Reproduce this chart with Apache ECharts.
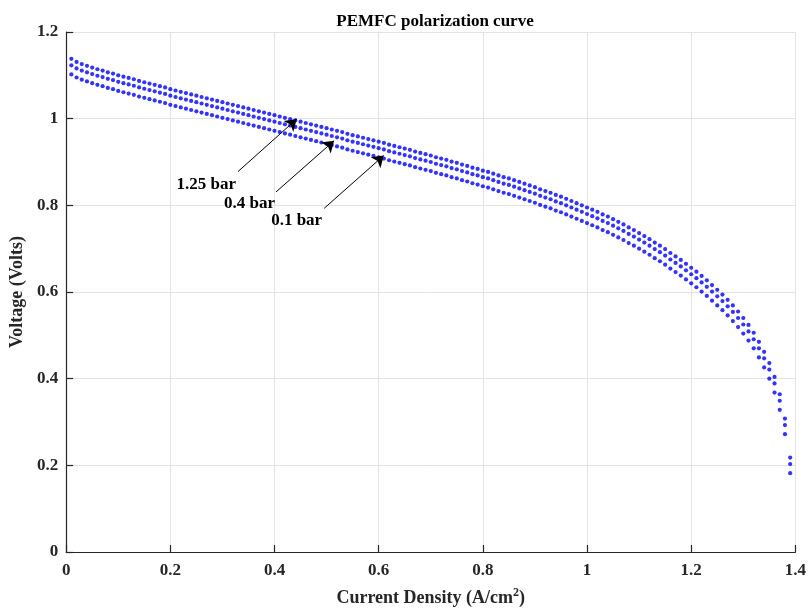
<!DOCTYPE html>
<html>
<head>
<meta charset="utf-8">
<script src="https://cdn.jsdelivr.net/npm/echarts@6/dist/echarts.min.js"></script>
<style>
html,body{margin:0;padding:0;background:#fff;}
#chart{width:809px;height:612px;}
</style>
</head>
<body>
<div id="chart"></div>
<script>
var currentDensity = [0.01,0.02,0.03,0.04,0.05,0.06,0.07,0.08,0.09,0.10,
0.11,0.12,0.13,0.14,0.15,0.16,0.17,0.18,0.19,0.20,
0.21,0.22,0.23,0.24,0.25,0.26,0.27,0.28,0.29,0.30,
0.31,0.32,0.33,0.34,0.35,0.36,0.37,0.38,0.39,0.40,
0.41,0.42,0.43,0.44,0.45,0.46,0.47,0.48,0.49,0.50,
0.51,0.52,0.53,0.54,0.55,0.56,0.57,0.58,0.59,0.60,
0.61,0.62,0.63,0.64,0.65,0.66,0.67,0.68,0.69,0.70,
0.71,0.72,0.73,0.74,0.75,0.76,0.77,0.78,0.79,0.80,
0.81,0.82,0.83,0.84,0.85,0.86,0.87,0.88,0.89,0.90,
0.91,0.92,0.93,0.94,0.95,0.96,0.97,0.98,0.99,1.00,
1.01,1.02,1.03,1.04,1.05,1.06,1.07,1.08,1.09,1.10,
1.11,1.12,1.13,1.14,1.15,1.16,1.17,1.18,1.19,1.20,
1.21,1.22,1.23,1.24,1.25,1.26,1.27,1.28,1.29,1.30,
1.31,1.32,1.33,1.34,1.35,1.36,1.37,1.38,1.39];

var voltage125bar = [1.138,1.131,1.126,1.122,1.118,1.114,1.111,1.107,1.104,1.100,
1.097,1.094,1.091,1.087,1.084,1.081,1.078,1.075,1.072,1.068,
1.065,1.062,1.059,1.056,1.053,1.050,1.047,1.044,1.041,1.038,
1.035,1.032,1.029,1.026,1.023,1.020,1.017,1.014,1.011,1.008,
1.005,1.002,0.999,0.996,0.993,0.990,0.987,0.984,0.981,0.978,
0.975,0.972,0.969,0.965,0.962,0.959,0.956,0.953,0.950,0.947,
0.944,0.940,0.937,0.934,0.931,0.928,0.924,0.921,0.918,0.915,
0.911,0.908,0.905,0.901,0.898,0.894,0.891,0.887,0.884,0.880,
0.877,0.873,0.869,0.865,0.862,0.858,0.854,0.850,0.846,0.842,
0.837,0.833,0.829,0.824,0.820,0.815,0.810,0.805,0.800,0.795,
0.790,0.785,0.779,0.774,0.768,0.762,0.756,0.749,0.743,0.736,
0.729,0.722,0.714,0.707,0.699,0.690,0.682,0.674,0.665,0.656,
0.647,0.637,0.627,0.616,0.605,0.594,0.582,0.569,0.555,0.540,
0.524,0.506,0.485,0.462,0.436,0.404,0.364,0.308,0.218];

var voltage04bar = [1.123,1.116,1.111,1.107,1.103,1.099,1.096,1.092,1.089,1.085,
1.082,1.079,1.076,1.072,1.069,1.066,1.063,1.060,1.057,1.053,
1.050,1.047,1.044,1.041,1.038,1.035,1.032,1.029,1.026,1.023,
1.020,1.017,1.014,1.011,1.008,1.005,1.002,0.999,0.996,0.993,
0.990,0.987,0.984,0.981,0.978,0.975,0.972,0.969,0.966,0.963,
0.960,0.957,0.954,0.950,0.947,0.944,0.941,0.938,0.935,0.932,
0.929,0.925,0.922,0.919,0.916,0.913,0.909,0.906,0.903,0.900,
0.896,0.893,0.890,0.886,0.883,0.879,0.876,0.872,0.869,0.865,
0.862,0.858,0.854,0.850,0.847,0.843,0.839,0.835,0.831,0.827,
0.822,0.818,0.814,0.809,0.805,0.800,0.795,0.790,0.785,0.780,
0.775,0.770,0.764,0.759,0.753,0.747,0.741,0.734,0.728,0.721,
0.714,0.707,0.699,0.692,0.684,0.675,0.667,0.659,0.650,0.641,
0.632,0.622,0.612,0.601,0.590,0.579,0.567,0.554,0.540,0.525,
0.509,0.491,0.470,0.447,0.421,0.389,0.349,0.293,0.203];

var voltage01bar = [1.102,1.095,1.090,1.086,1.082,1.078,1.075,1.071,1.068,1.064,
1.061,1.058,1.055,1.051,1.048,1.045,1.042,1.039,1.036,1.032,
1.029,1.026,1.023,1.020,1.017,1.014,1.011,1.008,1.005,1.002,
0.999,0.996,0.993,0.990,0.987,0.984,0.981,0.978,0.975,0.972,
0.969,0.966,0.963,0.960,0.957,0.954,0.951,0.948,0.945,0.942,
0.939,0.936,0.933,0.929,0.926,0.923,0.920,0.917,0.914,0.911,
0.908,0.904,0.901,0.898,0.895,0.892,0.888,0.885,0.882,0.879,
0.875,0.872,0.869,0.865,0.862,0.858,0.855,0.851,0.848,0.844,
0.841,0.837,0.833,0.829,0.826,0.822,0.818,0.814,0.810,0.806,
0.801,0.797,0.793,0.788,0.784,0.779,0.774,0.769,0.764,0.759,
0.754,0.749,0.743,0.738,0.732,0.726,0.720,0.713,0.707,0.700,
0.693,0.686,0.678,0.671,0.663,0.654,0.646,0.638,0.629,0.620,
0.611,0.601,0.591,0.580,0.569,0.558,0.546,0.533,0.519,0.504,
0.488,0.470,0.449,0.426,0.400,0.368,0.328,0.272,0.182];

var seriesNames = ['1.25 bar', '0.4 bar', '0.1 bar'];
// annotation: label, text anchor [x,y], arrow start [x,y], arrow tip [x,y] (data units)
var annotationLabels = ['1.25 bar', '0.4 bar', '0.1 bar'];
var annotationText = [[0.269, 0.848], [0.352, 0.803], [0.4425, 0.764]];
var arrowStart = [[0.330, 0.878], [0.403, 0.831], [0.4953, 0.793]];
var arrowEnd = [[0.4425, 0.999], [0.5144, 0.949], [0.6098, 0.915]];

var xTicks = {min: 0, max: 1.4, interval: 0.2};
var yTicks = {min: 0, max: 1.2, interval: 0.2};

var FONT = '"Liberation Serif", "Times New Roman", serif';
var TXT = '#262626';

function pairs(ys) { return currentDensity.map(function (x, i) { return [x, ys[i]]; }); }

var chart = echarts.init(document.getElementById('chart'), null, {renderer: 'canvas'});

var dotStyle = {color: '#0000ff'};
var series = [voltage125bar, voltage04bar, voltage01bar].map(function (ys, k) {
  return {
    name: seriesNames[k],
    type: 'scatter',
    data: pairs(ys),
    symbol: 'circle',
    symbolSize: 4.2,
    itemStyle: dotStyle,
    silent: true,
    z: 2
  };
});

series[0].markLine = {
  silent: true,
  symbol: ['none', 'arrow'],
  symbolSize: 11,
  label: {show: false},
  lineStyle: {color: '#000', width: 1, type: 'solid'},
  emphasis: {disabled: true},
  data: arrowStart.map(function (s, i) {
    return [{coord: s}, {coord: arrowEnd[i]}];
  })
};
series[0].markPoint = {
  silent: true,
  symbol: 'circle',
  symbolSize: 0,
  label: {
    show: true, position: 'inside',
    color: '#000', fontFamily: FONT, fontWeight: 'bold', fontSize: 17,
    formatter: function (p) { return p.name; }
  },
  data: annotationText.map(function (c, i) {
    return {name: annotationLabels[i], coord: c};
  })
};

chart.setOption({
  animation: false,
  backgroundColor: '#ffffff',
  title: {
    text: 'PEMFC polarization curve',
    left: 430, top: 8, textAlign: 'center',
    textStyle: {fontFamily: FONT, fontWeight: 'bold', fontSize: 17, color: '#000'}
  },
  grid: {left: 63, right: 12, top: 32, bottom: 55, containLabel: false},
  xAxis: {
    type: 'value',
    min: xTicks.min, max: xTicks.max, interval: xTicks.interval,
    name: '{n|Current Density (A/cm}{s|2}{n|)}',
    nameLocation: 'middle', nameGap: 35,
    nameTextStyle: {
      rich: {
        n: {fontFamily: FONT, fontWeight: 'bold', fontSize: 18, color: TXT},
        s: {fontFamily: FONT, fontWeight: 'bold', fontSize: 12, color: TXT, verticalAlign: 'top', padding: [0, 0, 10, 0]}
      }
    },
    axisLine: {show: true, onZero: false, lineStyle: {color: TXT, width: 1.2}},
    axisTick: {show: true, inside: true, length: 7, lineStyle: {color: TXT, width: 1.2}},
    axisLabel: {fontFamily: FONT, fontWeight: 'bold', fontSize: 17, color: TXT, margin: 10},
    splitLine: {show: true, lineStyle: {color: '#e3e3e3', width: 1}}
  },
  yAxis: {
    type: 'value',
    min: yTicks.min, max: yTicks.max, interval: yTicks.interval,
    name: 'Voltage (Volts)',
    nameLocation: 'middle', nameGap: 36,
    nameTextStyle: {fontFamily: FONT, fontWeight: 'bold', fontSize: 18, color: TXT},
    axisLine: {show: true, onZero: false, lineStyle: {color: TXT, width: 1.2}},
    axisTick: {show: true, inside: true, length: 7, lineStyle: {color: TXT, width: 1.2}},
    axisLabel: {fontFamily: FONT, fontWeight: 'bold', fontSize: 17, color: TXT, margin: 8},
    splitLine: {show: true, lineStyle: {color: '#e3e3e3', width: 1}}
  },
  series: series
});
</script>
</body>
</html>
